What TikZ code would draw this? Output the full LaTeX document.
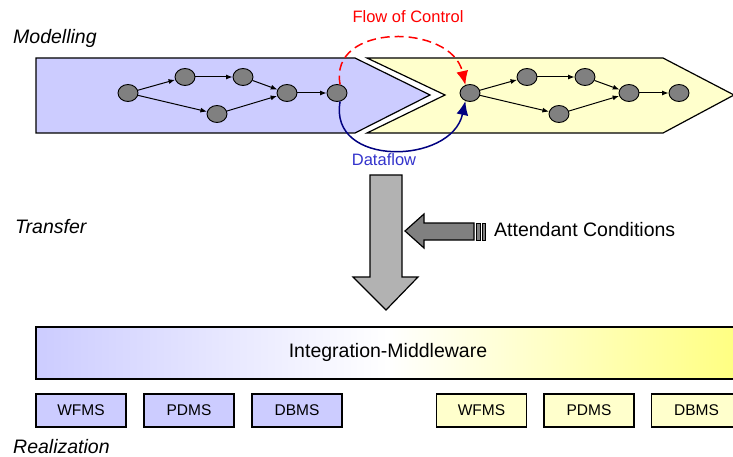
\documentclass[tikz,border=0pt]{standalone}
\usepackage{fontspec}
\setmainfont{Liberation Sans}
\usetikzlibrary{arrows.meta,shapes.geometric}
\definecolor{lavender}{RGB}{204,204,255}
\definecolor{paleyellow}{RGB}{255,255,204}
\definecolor{mwyellow}{RGB}{255,255,128}
\definecolor{navy}{RGB}{0,0,128}
\definecolor{dfblue}{RGB}{51,51,204}
\begin{document}
\begin{tikzpicture}[x=1pt,y=-1pt]
        \tikzstyle{every node}=[font=\fontsize{16.5}{19}\selectfont]
        \tikzstyle{task}=[ellipse,draw,fill=gray,line width=0.9pt,minimum width=20pt,minimum height=17pt,inner sep=0pt]
        \tikzstyle{flow}=[line width=1pt,-{Latex[length=6.5pt,width=5pt]}]
        \tikzstyle{sysbox}=[draw,line width=1.2pt,minimum width=90pt,minimum height=33pt,inner sep=0pt,font=\fontsize{15.5}{18}\selectfont]
        \tikzstyle{big}=[font=\fontsize{19.5}{22}\selectfont,inner sep=0pt]
        \tikzstyle{layer}=[anchor=west,inner sep=0pt,font=\fontsize{19.5}{22}\selectfont\itshape]
        \useasboundingbox (0,0) rectangle (733,457);

        \node[layer] (modelling) at (13,38) {Modelling};
        \node[layer] (transfer) at (15,227) {Transfer};
        \node[layer] (realization) at (13,447) {Realization};

        \filldraw[lavender,draw=black,line width=1.2pt] (36,58) -- (355,58) -- (430,95) -- (355,133) -- (36,133) -- cycle;
        \filldraw[paleyellow,draw=black,line width=1.2pt] (367,58) -- (663,58) -- (734,95) -- (663,133) -- (367,133) -- (445,95) -- cycle;

        \foreach \s/\dx in {l/0,r/342}{
          \begin{scope}[xshift=\dx]
            \node[task] (\s1) at (128,93) {};
            \node[task] (\s2) at (185,77) {};
            \node[task] (\s3) at (243,77) {};
            \node[task] (\s4) at (287,93) {};
            \node[task] (\s5) at (217,114) {};
            \node[task] (\s6) at (337,93) {};
            \draw[flow] (\s1) -- (\s2);
            \draw[flow] (\s2) -- (\s3);
            \draw[flow] (\s3) -- (\s4);
            \draw[flow] (\s1) -- (\s5);
            \draw[flow] (\s5) -- (\s4);
            \draw[flow] (\s4) -- (\s6);
          \end{scope}
        }

        \draw[red,dash pattern=on 9pt off 5pt,line width=1.5pt,-{Latex[length=14pt,width=12pt]}] (l6.70) .. controls +(-12,-62) and +(-14,-62) .. (r1.120);
        \draw[navy,line width=1.5pt,-{Latex[length=14pt,width=12pt]}] (l6.-70) .. controls +(-12,66) and +(-14,64) .. (r1.-120);
        \node[red] (control) at (408,17) {Flow of Control};
        \node[dfblue] (dataflow) at (384,160) {Dataflow};

        \filldraw[fill=gray!60,draw=black,line width=1.2pt] (370,175) -- (402,175) -- (402,277) -- (418,277) -- (386,310) -- (353,277) -- (370,277) -- cycle;
        \filldraw[fill=gray,draw=black,line width=1.2pt] (405,231) -- (424,214) -- (424,223) -- (474,223) -- (474,240) -- (424,240) -- (424,248) -- cycle;
        \filldraw[fill=gray,draw=black,line width=0.8pt] (476,223) rectangle (480,240);
        \filldraw[fill=gray,draw=black,line width=0.8pt] (482,223) rectangle (485,240);
        \node[big,anchor=west] (conditions) at (494,230) {Attendant Conditions};

        \shadedraw[left color=lavender,right color=mwyellow,middle color=white,draw=black,line width=1.2pt] (36,327) rectangle (740,379);
        \node[big] (middleware) at (388,352) {Integration-Middleware};

        \foreach \name [count=\i from 0] in {WFMS,PDMS,DBMS}{
            \node[sysbox,fill=lavender] (lsys\i) at (81+108*\i,410.5) {\name};
            \node[sysbox,fill=paleyellow] (rsys\i) at (481.5+107.5*\i,410.5) {\name};
        }
\end{tikzpicture}
\end{document}
